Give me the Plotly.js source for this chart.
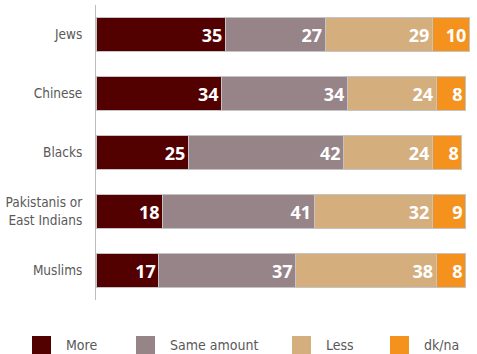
<!DOCTYPE html>
<html>
<head>
<meta charset="utf-8">
<script src="https://cdn.plot.ly/plotly-3.0.1.min.js"></script>
<style>html,body{margin:0;padding:0;background:#fff;}#chart{width:477px;height:354px;}</style>
</head>
<body>
<div id="chart"></div>
<script>
const categories = ["Jews", "Chinese", "Blacks", "Pakistanis or<br>East Indians", "Muslims"];
const seriesNames = ["More", "Same amount", "Less", "dk/na"];
const more = [35, 34, 25, 18, 17];
const same = [27, 34, 42, 41, 37];
const less = [29, 24, 24, 32, 38];
const dkna = [10, 8, 8, 9, 8];
const colors = ["#520000", "#978489", "#d4ae7d", "#f5921e"];
const seriesValues = [more, same, less, dkna];

const LBL_FONT = "'DejaVu Sans Condensed', 'Liberation Sans Narrow', Arial, sans-serif";

const traces = seriesValues.map((vals, i) => ({
  type: "bar",
  orientation: "h",
  name: seriesNames[i],
  y: categories,
  x: vals,
  text: vals.map(String),
  textposition: "inside",
  insidetextanchor: "end",
  textangle: 0,
  constraintext: "none",
  textfont: {family: "'Open Sans', sans-serif", size: 18, color: "#ffffff", weight: 700},
  marker: {color: colors[i], line: {color: "#c4c4c4", width: 1}},
  showlegend: false,
  hoverinfo: "none"
}));

// custom legend (large squares) built from series names/colors
const legX = [32, 136, 292, 390];
const L = 96, W = 377, T = 5, H = 295;
const shapes = [];
const annotations = [];
seriesNames.forEach((n, i) => {
  const x0 = (legX[i] - L) / W, x1 = (legX[i] + 19 - L) / W;
  shapes.push({type: "rect", xref: "paper", yref: "paper", x0: x0, x1: x1,
    y0: (T + H - 336) / H, y1: (T + H - 354) / H, fillcolor: colors[i], line: {width: 0}});
  annotations.push({xref: "paper", yref: "paper", x: (legX[i] + 32 - L) / W, y: (T + H - 345) / H,
    xanchor: "left", yanchor: "middle", showarrow: false, text: n,
    font: {family: LBL_FONT, size: 14, color: "#595959"}});
});

const layout = {
  width: 477, height: 354,
  margin: {l: 96, r: 4, t: 5, b: 54},
  barmode: "stack",
  bargap: 0.41,
  paper_bgcolor: "#ffffff",
  plot_bgcolor: "#ffffff",
  xaxis: {range: [0, 102], showgrid: false, zeroline: false, showticklabels: false, showline: false, fixedrange: true},
  yaxis: {autorange: "reversed", showgrid: false, zeroline: false, showline: true, linecolor: "#bdbdbd", linewidth: 1,
    ticks: "", ticklen: 0, tickfont: {family: LBL_FONT, size: 13.5, color: "#595959"}, ticklabelstandoff: 10, fixedrange: true},
  shapes: shapes,
  annotations: annotations,
  uniformtext: {mode: false}
};

Plotly.newPlot("chart", traces, layout, {displayModeBar: false, staticPlot: true});
</script>
</body>
</html>
